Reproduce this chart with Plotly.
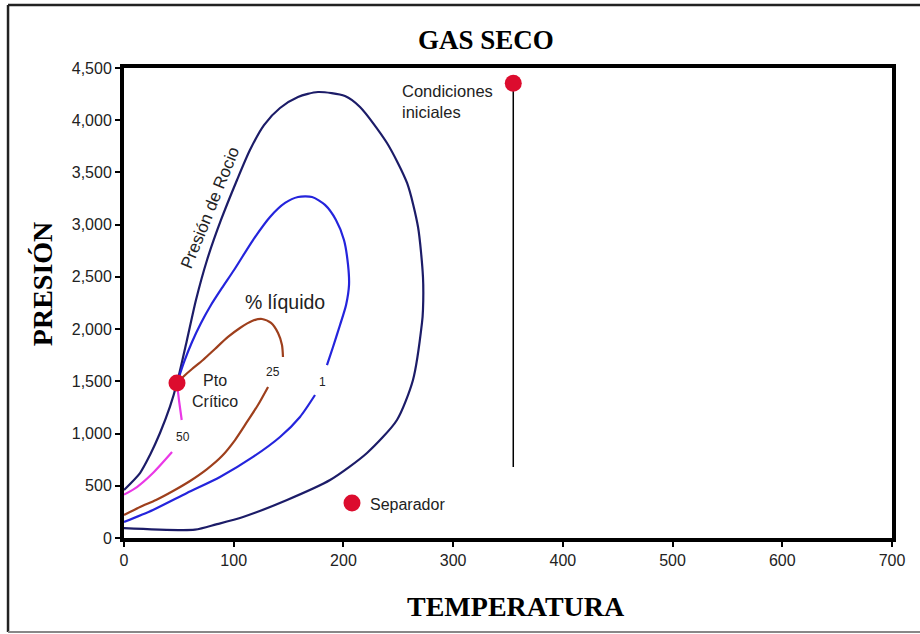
import plotly.graph_objects as go

# Dew-point envelope (outer curve), temperature vs pressure
dew_T = [0, 14.6, 23.7, 32.8, 41.9, 48.3, 57.4, 65.6, 75.7, 88.4, 103, 114.8, 127.6, 142.2,
         158.6, 176.8, 201.4, 215.1, 239.7, 258, 268, 272.5, 272.5, 271.6, 263.4,
         248.8, 221.5, 187.8, 148.6, 108.5, 84, 64.7, 0]
dew_P = [460, 622, 795, 1005, 1257, 1484, 1896, 2279, 2662, 3045, 3428, 3715, 3954, 4117,
         4223, 4270, 4232, 4127, 3782, 3399, 2978, 2499, 2183, 2059, 1513,
         1130, 814, 555, 364, 201, 130, 80, 95]

# Quality lines (% liquid); None marks the break where the label sits
q1_T = [48.3, 54.7, 62.0, 70.2, 79.3, 89.3, 100.3, 117.6, 133.1, 146.8, 158.6, 171.4, 183.2,
        193.2, 200.5, 204.2, 205.1, 202.4, 196.9, 190.5, 185.0, None,
        174.1, 160.4, 142.2, 117.6, 87.5, 57.4, 26.4, 0]
q1_P = [1484, 1685, 1877, 2059, 2231, 2394, 2566, 2853, 3074, 3208, 3265, 3265, 3189,
        3045, 2853, 2614, 2422, 2231, 2039, 1829, 1656, None,
        1369, 1159, 967, 776, 584, 431, 268, 153]

q25_T = [48.3, 53.8, 62.0, 72.0, 82.9, 94.8, 105.7, 116.7, 125.8, 134.0, 140.4, 144.0, 144.9, None,
         131.3, 122.1, 112.1, 101.2, 89.3, 75.7, 60.2, 44.7, 29.2, 14.6, 0]
q25_P = [1484, 1542, 1618, 1704, 1810, 1925, 2011, 2078, 2097, 2059, 1963, 1848, 1733, None,
         1446, 1273, 1111, 938, 785, 660, 546, 450, 364, 297, 220]

q50_T = [48.3, 50.1, 52.6, None, 43.8, 26.4, 11.8, 0]
q50_P = [1484, 1321, 1130, None, 823, 622, 488, 415]

# Reference points
crit_T, crit_P = 48.3, 1484
sep_T, sep_P = 207.8, 335
init_T, init_P = 354.8, 4354
depletion_P_end = 680

x_ticks = [0, 100, 200, 300, 400, 500, 600, 700]
y_ticks = [0, 500, 1000, 1500, 2000, 2500, 3000, 3500, 4000, 4500]

NAVY = "#1c1c68"
BLUE = "#2424dc"
BROWN = "#9e3f1c"
MAGENTA = "#ea38e6"
RED = "#dc0c2e"
SANS = "Liberation Sans, Arial, sans-serif"
SERIF = "Liberation Serif, Times New Roman, serif"

fig = go.Figure()

line_kw = dict(mode="lines", hoverinfo="skip", showlegend=False, connectgaps=False)
spline = dict(width=2.2, shape="spline", smoothing=0.7)
fig.add_trace(go.Scatter(x=dew_T, y=dew_P, line=dict(color=NAVY, **spline), **line_kw))
fig.add_trace(go.Scatter(x=q1_T, y=q1_P, line=dict(color=BLUE, **spline), **line_kw))
fig.add_trace(go.Scatter(x=q25_T, y=q25_P, line=dict(color=BROWN, **spline), **line_kw))
fig.add_trace(go.Scatter(x=q50_T, y=q50_P, line=dict(color=MAGENTA, **spline), **line_kw))

# Isothermal depletion line from initial conditions
fig.add_trace(go.Scatter(x=[init_T, init_T], y=[init_P, depletion_P_end],
                         line=dict(color="black", width=1.5), **line_kw))

fig.add_trace(go.Scatter(x=[crit_T, sep_T, init_T], y=[crit_P, sep_P, init_P],
                         mode="markers", hoverinfo="skip", showlegend=False,
                         marker=dict(color=RED, size=17, line=dict(width=0))))


def note(text, x, y, size=16, xanchor="center", angle=0, color="#222"):
    fig.add_annotation(text=text, x=x, y=y, xref="x", yref="y", showarrow=False,
                       xanchor=xanchor, yanchor="middle", textangle=angle,
                       align="left" if xanchor == "left" else "center",
                       font=dict(family=SANS, size=size, color=color))


note("Presión de Rocio", 79.0, 3160, size=17, angle=-68)
note("% líquido", 146.7, 2260, size=19.5)
note("Pto<br>Crítico", 83, 1407, size=16)
note("25", 135.8, 1590, size=12)
note("1", 180.5, 1494, size=12)
note("50", 53.8, 967, size=12)
note("Separador", 222.4, 325, size=16, xanchor="left")
note("Condiciones<br>iniciales", 251.6, 4175, size=16.5, xanchor="left")


def paper_note(text, x, y, size, angle=0):
    fig.add_annotation(text=text, x=x, y=y, xref="paper", yref="paper", showarrow=False,
                       xanchor="center", yanchor="middle", textangle=angle,
                       font=dict(family=SERIF, size=size, color="black"))


paper_note("<b>GAS SECO</b>", 0.471, 1.0596, 27)
paper_note("<b>TEMPERATURA</b>", 0.510, -0.1447, 28)
paper_note("<b>PRESIÓN</b>", -0.1068, 0.540, 28, angle=-90)

# Page frame: left and top edges dark, bottom edge light
frame_x0, frame_x1, frame_y0, frame_y1 = -0.151, 1.2, -0.2, 1.134
fig.add_shape(type="line", xref="paper", yref="paper", x0=frame_x0, x1=frame_x0,
              y0=frame_y0, y1=frame_y1, line=dict(color="#222", width=2.5))
fig.add_shape(type="line", xref="paper", yref="paper", x0=frame_x0, x1=frame_x1,
              y0=frame_y1, y1=frame_y1, line=dict(color="#222", width=2.5))
fig.add_shape(type="line", xref="paper", yref="paper", x0=frame_x0, x1=frame_x1,
              y0=frame_y0, y1=frame_y0, line=dict(color="#888", width=2))

axis_common = dict(showgrid=False, zeroline=False, showline=True, linecolor="black", linewidth=4,
                   mirror=True, ticks="outside", ticklen=5, tickwidth=1.5, tickcolor="black",
                   tickfont=dict(family=SANS, size=16, color="#222"))
fig.update_xaxes(range=[0, 700], tickvals=x_ticks, **axis_common)
fig.update_yaxes(range=[0, 4500], tickvals=y_ticks, tickformat=",", **axis_common)

fig.update_layout(width=920, height=634, margin=dict(l=124, r=28, t=68, b=96),
                  paper_bgcolor="white", plot_bgcolor="white")

fig.write_html("out.html")
